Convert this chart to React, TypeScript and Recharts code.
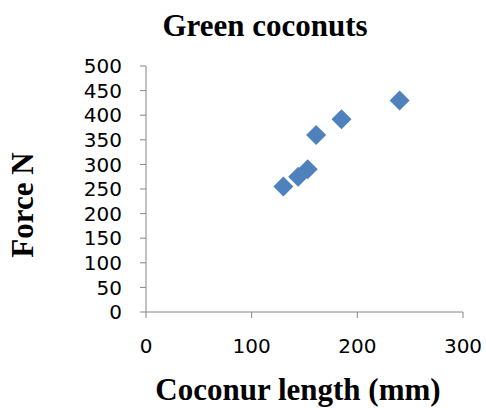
import React from "react";
import { ScatterChart, Scatter, XAxis, YAxis } from "recharts";

const lengths = [130, 144, 153, 161, 185, 240];
const forces = [255, 275, 290, 360, 392, 430];
const xTicks = [0, 100, 200, 300];
const yTicks = [0, 50, 100, 150, 200, 250, 300, 350, 400, 450, 500];

const data = lengths.map((x, i) => ({ x, y: forces[i] }));

const Diamond = (props: any) => {
  const { cx, cy } = props;
  const r = 10;
  return (
    <path
      d={`M${cx},${cy - r}L${cx + r},${cy}L${cx},${cy + r}L${cx - r},${cy}Z`}
      fill="#4F81BD"
    />
  );
};

const serif = "'Liberation Serif', 'Times New Roman', serif";
const tickStyle = { fontFamily: "'DejaVu Sans', sans-serif", fontSize: 20, fill: "#000" };

export default function App() {
  return (
    <div style={{ position: "absolute", left: 0, top: 0, width: 486, height: 408, background: "#fff" }}>
      <ScatterChart width={486} height={408} margin={{ top: 66, right: 23, bottom: 36, left: 0 }}>
        <XAxis
          type="number"
          dataKey="x"
          domain={[0, 300]}
          ticks={xTicks}
          height={60}
          stroke="#868686"
          tickSize={6}
          tickMargin={21}
          tick={tickStyle}
          interval={0}
        />
        <YAxis
          type="number"
          dataKey="y"
          domain={[0, 500]}
          ticks={yTicks}
          width={146}
          stroke="#868686"
          tickSize={6}
          tickMargin={18}
          tick={tickStyle}
          interval={0}
        />
        <Scatter data={data} shape={<Diamond />} isAnimationActive={false} />
        <text x={265} y={36} textAnchor="middle" fontFamily={serif} fontWeight="bold" fontSize={31} fill="#000">
          Green coconuts
        </text>
        <text
          x={33}
          y={205}
          transform="rotate(-90 33 205)"
          textAnchor="middle"
          fontFamily={serif}
          fontWeight="bold"
          fontSize={31}
          fill="#000"
        >
          Force N
        </text>
        <text x={298} y={400} textAnchor="middle" fontFamily={serif} fontWeight="bold" fontSize={31} fill="#000">
          Coconur length (mm)
        </text>
      </ScatterChart>
    </div>
  );
}
